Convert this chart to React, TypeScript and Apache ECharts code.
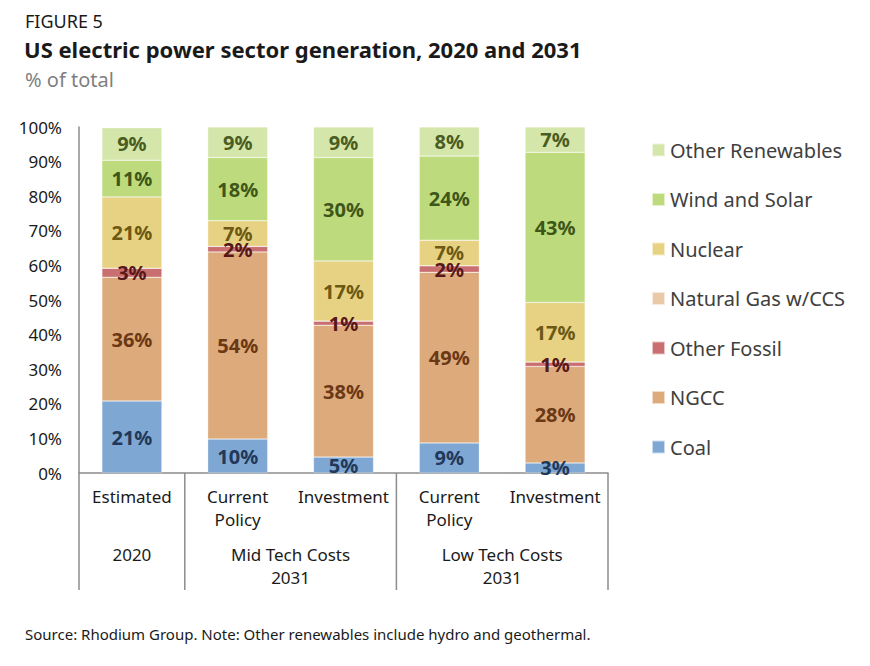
import React, { useEffect, useRef } from "react";
import * as echarts from "echarts";

const categories = ["Estimated", "Current\nPolicy", "Investment", "Current\nPolicy", "Investment"];
const groups = [
  { label: "2020", size: 1 },
  { label: "Mid Tech Costs\n2031", size: 2 },
  { label: "Low Tech Costs\n2031", size: 2 },
];
const coal = [20.8, 9.8, 4.6, 8.7, 2.9];
const ngcc = [35.8, 54.1, 38.1, 49.3, 27.9];
const otherFossil = [2.6, 1.6, 1.2, 1.9, 1.3];
const gasCCS = [0, 0, 0, 0, 0];
const nuclear = [20.6, 7.4, 17.4, 7.4, 17.2];
const windSolar = [10.6, 18.3, 29.9, 24.3, 43.4];
const otherRenewables = [9.4, 8.8, 8.8, 8.4, 7.3];
const yTicks = [0, 10, 20, 30, 40, 50, 60, 70, 80, 90, 100];

const FONT = "'Noto Sans', sans-serif";

const seriesDefs = [
  { name: "Coal", data: coal, color: "#7ea7d3", label: "#22385a" },
  { name: "NGCC", data: ngcc, color: "#dcaa7b", label: "#6a3814" },
  { name: "Other Fossil", data: otherFossil, color: "#c96f70", label: "#561818" },
  { name: "Natural Gas w/CCS", data: gasCCS, color: "#eac9a9", label: "#6a3814" },
  { name: "Nuclear", data: nuclear, color: "#e7d283", label: "#6b5914" },
  { name: "Wind and Solar", data: windSolar, color: "#bddb7c", label: "#3e5619" },
  { name: "Other Renewables", data: otherRenewables, color: "#d4e6a9", label: "#4a5c22" },
];

export default function App() {
  const ref = useRef<HTMLDivElement>(null);
  useEffect(() => {
    if (!ref.current) return;
    const chart = echarts.init(ref.current, null, { renderer: "svg" });
    const gridLeft = 79;
    const gridTop = 127;
    const gridW = 529;
    const gridH = 346;
    const catW = gridW / categories.length;
    const axisColor = "#8c8c8c";
    const bottomY = gridTop + gridH;
    const lineEnd = 590;

    const graphics: any[] = [];
    let acc = 0;
    const bounds = [0];
    groups.forEach((g) => {
      acc += g.size;
      bounds.push(acc);
    });
    bounds.forEach((b) => {
      const x = gridLeft + b * catW;
      graphics.push({
        type: "line",
        shape: { x1: x, y1: bottomY, x2: x, y2: lineEnd },
        style: { stroke: axisColor, lineWidth: 1.5 },
      });
    });
    groups.forEach((g, i) => {
      const cx = gridLeft + ((bounds[i] + bounds[i + 1]) / 2) * catW;
      graphics.push({
        type: "text",
        x: cx,
        y: 543,
        style: {
          text: g.label,
          fontFamily: FONT,
          fontSize: 17,
          lineHeight: 23,
          fill: "#1a1a1a",
          textAlign: "center",
          textVerticalAlign: "top",
        },
      });
    });

    chart.setOption({
      animation: false,
      title: [
        {
          text: "FIGURE 5",
          left: 20,
          top: 7,
          textStyle: { fontFamily: FONT, fontSize: 18, fontWeight: "normal", color: "#1a1a1a" },
        },
        {
          text: "US electric power sector generation, 2020 and 2031",
          left: 19,
          top: 33,
          textStyle: { fontFamily: FONT, fontSize: 22, fontWeight: "bold", color: "#1a1a1a" },
        },
        {
          text: "% of total",
          left: 20,
          top: 64,
          textStyle: { fontFamily: FONT, fontSize: 20, fontWeight: "normal", color: "#7f7f7f" },
        },
        {
          text: "Source: Rhodium Group. Note: Other renewables include hydro and geothermal.",
          left: 20,
          top: 621,
          textStyle: { fontFamily: FONT, fontSize: 15, fontWeight: "normal", color: "#1a1a1a" },
        },
      ],
      legend: {
        orient: "vertical",
        left: 651,
        top: 140,
        padding: 0,
        itemWidth: 13,
        itemHeight: 13,
        itemGap: 29.5,
        icon: "rect",
        data: seriesDefs.map((s) => s.name).reverse(),
        textStyle: { fontFamily: FONT, fontSize: 20, color: "#404040", lineHeight: 20 },
      },
      grid: { left: gridLeft, top: gridTop, width: gridW, height: gridH, containLabel: false },
      xAxis: {
        type: "category",
        data: categories,
        axisLine: { lineStyle: { color: axisColor, width: 1.5 } },
        axisTick: { show: false },
        axisLabel: {
          interval: 0,
          margin: 12,
          fontFamily: FONT,
          fontSize: 17,
          lineHeight: 23,
          color: "#1a1a1a",
          verticalAlign: "top",
        },
      },
      yAxis: {
        type: "value",
        min: yTicks[0],
        max: yTicks[yTicks.length - 1],
        interval: 10,
        axisLine: { show: true, lineStyle: { color: axisColor, width: 1.5 } },
        axisTick: { show: false },
        splitLine: { show: false },
        axisLabel: {
          margin: 17,
          fontFamily: FONT,
          fontSize: 17,
          color: "#1a1a1a",
          formatter: "{value}%",
        },
      },
      series: seriesDefs.map((s) => ({
        name: s.name,
        type: "bar",
        stack: "total",
        barWidth: 60,
        data: s.data,
        itemStyle: { color: s.color, borderColor: "rgba(255,255,255,0.6)", borderWidth: 0.5 },
        label: {
          show: true,
          position: "inside",
          fontFamily: FONT,
          fontSize: 20,
          fontWeight: "bold",
          color: s.label,
          formatter: (p: any) => (p.value >= 0.5 ? Math.round(p.value) + "%" : ""),
        },
        labelLayout: { hideOverlap: false },
      })),
      graphic: graphics,
    });
    return () => chart.dispose();
  }, []);
  return (
    <div
      ref={ref}
      style={{ position: "absolute", left: 0, top: 0, width: 870, height: 666, background: "#fff" }}
    />
  );
}
